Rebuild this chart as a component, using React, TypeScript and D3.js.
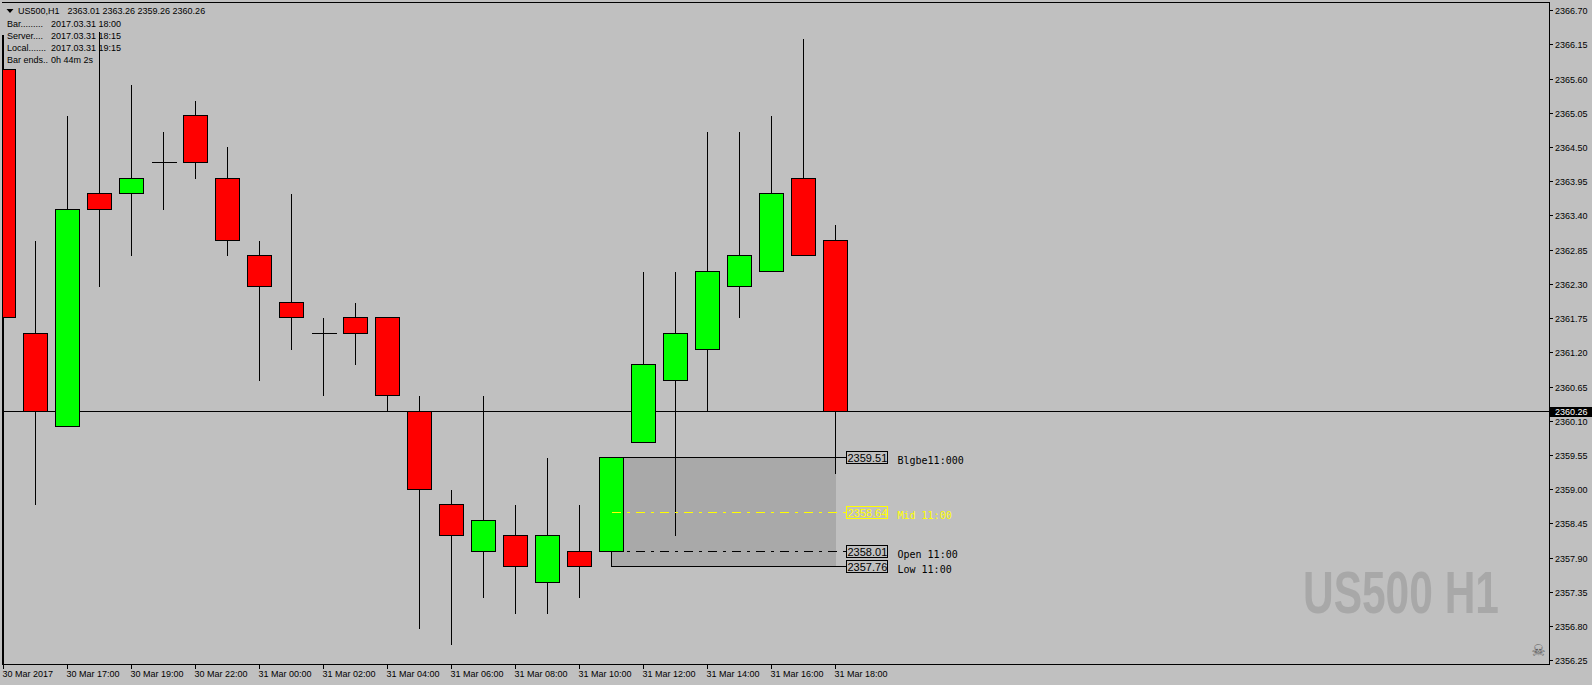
import React, { useLayoutEffect, useRef, useState } from "react";
import * as d3 from "d3";

// ---------- data ----------
const SYMBOL = "US500,H1";
const barTimes = [
  "30 Mar 15:00", "30 Mar 16:00", "30 Mar 17:00", "30 Mar 18:00", "30 Mar 19:00",
  "30 Mar 20:00", "30 Mar 22:00", "30 Mar 23:00", "31 Mar 00:00", "31 Mar 01:00",
  "31 Mar 02:00", "31 Mar 03:00", "31 Mar 04:00", "31 Mar 05:00", "31 Mar 06:00",
  "31 Mar 07:00", "31 Mar 08:00", "31 Mar 09:00", "31 Mar 10:00", "31 Mar 11:00",
  "31 Mar 12:00", "31 Mar 13:00", "31 Mar 14:00", "31 Mar 15:00", "31 Mar 16:00",
  "31 Mar 17:00", "31 Mar 18:00",
];
const opens = [
  2365.76, 2361.51, 2360.01, 2363.76, 2363.76, 2364.26, 2365.01, 2364.01, 2362.76, 2362.01,
  2361.51, 2361.76, 2361.76, 2360.26, 2358.76, 2358.01, 2358.26, 2357.51, 2358.01, 2358.01,
  2359.76, 2360.76, 2361.26, 2362.26, 2362.51, 2364.01, 2363.01,
];
const highs = [
  2366.31, 2363.01, 2365.01, 2366.36, 2365.51, 2364.76, 2365.26, 2364.51, 2363.01, 2363.76,
  2361.76, 2362.01, 2361.76, 2360.51, 2359.01, 2360.51, 2358.76, 2359.51, 2358.76, 2359.51,
  2362.51, 2362.51, 2364.76, 2364.76, 2365.01, 2366.26, 2363.26,
];
const lows = [
  2356.01, 2358.76, 2360.01, 2362.26, 2362.76, 2363.51, 2364.01, 2362.76, 2360.76, 2361.26,
  2360.51, 2361.01, 2360.26, 2356.76, 2356.51, 2357.26, 2357.01, 2357.01, 2357.26, 2357.76,
  2359.76, 2358.26, 2360.26, 2361.76, 2362.51, 2362.76, 2359.26,
];
const closes = [
  2361.76, 2360.26, 2363.51, 2363.51, 2364.01, 2364.26, 2364.26, 2363.01, 2362.26, 2361.76,
  2361.51, 2361.51, 2360.51, 2359.01, 2358.26, 2358.51, 2357.76, 2358.26, 2357.76, 2359.51,
  2361.01, 2361.51, 2362.51, 2362.76, 2363.76, 2362.76, 2360.26,
];
const priceTicks = [
  2366.7, 2366.15, 2365.6, 2365.05, 2364.5, 2363.95, 2363.4, 2362.85, 2362.3, 2361.75,
  2361.2, 2360.65, 2360.1, 2359.55, 2359.0, 2358.45, 2357.9, 2357.35, 2356.8, 2356.25,
];
const timeTickIdx = [0, 2, 4, 6, 8, 10, 12, 14, 16, 18, 20, 22, 24, 26];
const timeTickLabels = [
  "30 Mar 2017", "30 Mar 17:00", "30 Mar 19:00", "30 Mar 22:00", "31 Mar 00:00",
  "31 Mar 02:00", "31 Mar 04:00", "31 Mar 06:00", "31 Mar 08:00", "31 Mar 10:00",
  "31 Mar 12:00", "31 Mar 14:00", "31 Mar 16:00", "31 Mar 18:00",
];
const currentPrice = 2360.26;
const infoLabels = ["Bar.........", "Server....", "Local.......", "Bar ends.."];
const infoValues = ["2017.03.31 18:00", "2017.03.31 18:15", "2017.03.31 19:15", "0h 44m 2s"];
const zoneStartIdx = 19;
const zoneEndIdx = 26;
const levelPrices = [2359.51, 2358.64, 2358.01, 2357.76];
const levelNames = ["Blgbe11:000", "Mid 11:00", "Open 11:00", "Low 11:00"];
const levelColors = ["#000000", "#ffff00", "#000000", "#000000"];
const levelDashed = [false, true, true, false];
const watermark = "US500 H1";

// ---------- layout ----------
const W = 1592;
const H = 685;
const PLOT_RIGHT = 1549;
const PLOT_BOTTOM = 664;
const BAR_STEP = 32;
const HALF_BODY = 12;
const BG = "#c0c0c0";
const UP = "#00ff00";
const DOWN = "#ff0000";
const AXIS_FONT = "'Liberation Sans', Arial, sans-serif";
const MONO_FONT = "'DejaVu Sans Mono', 'Liberation Mono', monospace";
const WM_WIDTH = 196;

function Watermark() {
  const ref = useRef<SVGTextElement>(null);
  const [sx, setSx] = useState(1);
  useLayoutEffect(() => {
    if (ref.current) {
      const w = ref.current.getComputedTextLength();
      if (w > 0) setSx(WM_WIDTH / w);
    }
  }, []);
  return (
    <g transform={`translate(1303,613) scale(${sx},1)`}>
      <text
        ref={ref}
        x={0}
        y={0}
        fontFamily="'Liberation Sans Narrow', 'Liberation Sans', Arial, sans-serif"
        fontWeight="bold"
        fontSize={60}
        fill="#a8a8a8"
        shapeRendering="auto"
      >
        {watermark}
      </text>
    </g>
  );
}

export default function App() {
  if (typeof document !== "undefined") document.body.style.margin = "0";
  const n = opens.length;
  const x = d3.scaleLinear().domain([0, n - 1]).range([3.5, 3.5 + BAR_STEP * (n - 1)]);
  const y = d3.scaleLinear().domain([2356.25, 2366.7]).range([660.7, 10.7]);
  const sy = (p: number) => Math.floor(y(p)) + 0.5;
  const fmt = d3.format(".2f");

  const zx0 = x(zoneStartIdx);
  const zx1 = x(zoneEndIdx);
  const boxLeft = zx1 + 11;
  const boxW = 41;
  const last = n - 1;

  return (
    <svg
      width={W}
      height={H}
      style={{ position: "absolute", left: 0, top: 0, display: "block", background: BG }}
      shapeRendering="crispEdges"
    >
      <defs>
        <clipPath id="plot">
          <rect x={3} y={3} width={PLOT_RIGHT - 3} height={PLOT_BOTTOM - 3} />
        </clipPath>
      </defs>
      <rect x={0} y={0} width={W} height={H} fill={BG} />

      <Watermark />

      <g clipPath="url(#plot)">
        {/* zone rectangle */}
        <rect
          x={zx0}
          y={sy(levelPrices[0])}
          width={zx1 - zx0}
          height={sy(levelPrices[3]) - sy(levelPrices[0])}
          fill="#a9a9a9"
        />
        {/* current price line */}
        <line x1={0} x2={PLOT_RIGHT} y1={sy(currentPrice)} y2={sy(currentPrice)} stroke="#000" />

        {/* candles */}
        {opens.map((o, i) => {
          const c = closes[i];
          const cx = x(i);
          const yo = sy(o);
          const yc = sy(c);
          const up = c > o;
          return (
            <g key={barTimes[i]}>
              <line x1={cx} x2={cx} y1={sy(highs[i])} y2={sy(lows[i])} stroke="#000" />
              {o === c ? (
                <line x1={cx - HALF_BODY} x2={cx + HALF_BODY + 1} y1={yo} y2={yo} stroke="#000" />
              ) : (
                <rect
                  x={cx - HALF_BODY}
                  y={Math.min(yo, yc)}
                  width={HALF_BODY * 2}
                  height={Math.abs(yo - yc)}
                  fill={up ? UP : DOWN}
                  stroke="#000"
                />
              )}
            </g>
          );
        })}

        {/* level lines */}
        {levelPrices.map((p, i) => (
          <line
            key={"lv" + i}
            x1={zx0}
            x2={boxLeft}
            y1={sy(p)}
            y2={sy(p)}
            stroke={levelColors[i]}
            strokeDasharray={levelDashed[i] ? "9,6,3,6" : undefined}
          />
        ))}
      </g>

      {/* level labels */}
      {levelPrices.map((p, i) => {
        const py = sy(p);
        return (
          <g key={"lb" + i}>
            <rect x={boxLeft} y={py - 6} width={boxW} height={12} fill={BG} stroke={levelColors[i]} />
            <text
              x={boxLeft + 1}
              y={py + 4}
              fontFamily={AXIS_FONT}
              fontSize={11}
              fill={levelColors[i]}
              shapeRendering="auto"
            >
              {fmt(p)}
            </text>
            <text
              x={boxLeft + 51}
              y={py + 6}
              fontFamily={MONO_FONT}
              fontSize={10}
              fill={levelColors[i]}
              shapeRendering="auto"
            >
              {levelNames[i]}
            </text>
          </g>
        );
      })}

      {/* frame */}
      <line x1={2.5} x2={2.5} y1={sy(highs[0])} y2={PLOT_BOTTOM + 1} stroke="#000" />
      <line x1={2} x2={PLOT_RIGHT + 1} y1={2.5} y2={2.5} stroke="#000" />
      <line x1={PLOT_RIGHT + 0.5} x2={PLOT_RIGHT + 0.5} y1={2} y2={PLOT_BOTTOM + 1} stroke="#000" />
      <line x1={2} x2={PLOT_RIGHT + 1} y1={PLOT_BOTTOM + 0.5} y2={PLOT_BOTTOM + 0.5} stroke="#000" />

      {/* price axis */}
      {priceTicks.map((t) => (
        <g key={"pt" + t}>
          <line x1={PLOT_RIGHT + 1} x2={PLOT_RIGHT + 4} y1={sy(t)} y2={sy(t)} stroke="#000" />
          <text x={PLOT_RIGHT + 6} y={sy(t) + 3.5} fontFamily={AXIS_FONT} fontSize={9} fill="#000" shapeRendering="auto">
            {fmt(t)}
          </text>
        </g>
      ))}
      <rect x={PLOT_RIGHT + 1} y={sy(currentPrice) - 5} width={W - PLOT_RIGHT} height={10} fill="#000" />
      <text
        x={PLOT_RIGHT + 6}
        y={sy(currentPrice) + 3.5}
        fontFamily={AXIS_FONT}
        fontSize={9}
        fill="#fff"
        shapeRendering="auto"
      >
        {fmt(currentPrice)}
      </text>

      {/* time axis */}
      {timeTickIdx.map((ti, k) => (
        <g key={"tt" + ti}>
          <line x1={x(ti)} x2={x(ti)} y1={PLOT_BOTTOM + 1} y2={PLOT_BOTTOM + 5} stroke="#000" />
          <text x={x(ti) - 1} y={677} fontFamily={AXIS_FONT} fontSize={9} fill="#000" shapeRendering="auto">
            {timeTickLabels[k]}
          </text>
        </g>
      ))}

      {/* header */}
      <path d="M6.5,9 L13.5,9 L10,13 Z" fill="#000" shapeRendering="auto" />
      <text x={18} y={13.5} fontFamily={AXIS_FONT} fontSize={9} fill="#000" shapeRendering="auto">
        {SYMBOL}
      </text>
      <text x={67.5} y={13.5} fontFamily={AXIS_FONT} fontSize={9} fill="#000" shapeRendering="auto">
        {[opens[last], highs[last], lows[last], closes[last]].map(fmt).join(" ")}
      </text>
      {infoLabels.map((s, i) => (
        <g key={s}>
          <text x={7} y={27 + 12 * i} fontFamily={AXIS_FONT} fontSize={9} fill="#000" shapeRendering="auto">
            {s}
          </text>
          <text x={51} y={27 + 12 * i} fontFamily={AXIS_FONT} fontSize={9} fill="#000" shapeRendering="auto">
            {infoValues[i]}
          </text>
        </g>
      ))}

      {/* skull icon */}
      <text x={1538.5} y={656} textAnchor="middle" fontFamily="'DejaVu Sans', sans-serif" fontSize={16} fill="#5a5a5a" shapeRendering="auto">
        {"\u2620"}
      </text>
    </svg>
  );
}
